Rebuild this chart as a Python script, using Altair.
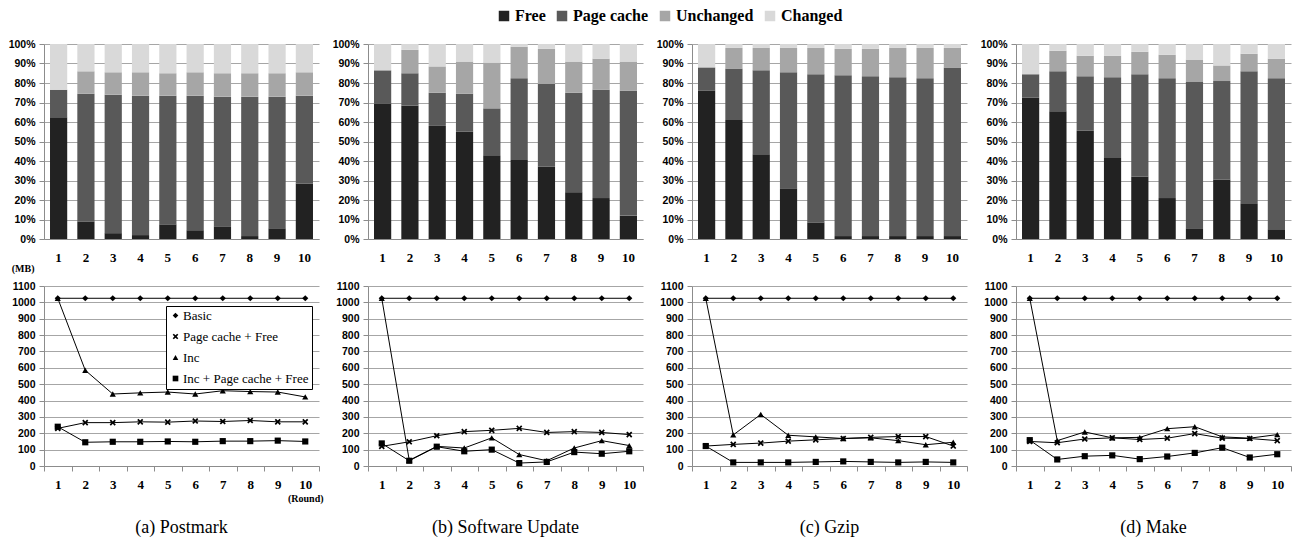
import altair as alt
import pandas as pd

rounds = [1, 2, 3, 4, 5, 6, 7, 8, 9, 10]
components = ["Free", "Page cache", "Unchanged", "Changed"]
comp_colors = ["#222222", "#595959", "#a6a6a6", "#d9d9d9"]
panels = ["(a) Postmark", "(b) Software Update", "(c) Gzip", "(d) Make"]

# Stacked bars: cumulative tops (%) of Free, Page cache, Unchanged (Changed fills to 100)
free_top = {
    "(a) Postmark":        [62.5, 9, 3, 2, 7.5, 4.5, 6.5, 1.5, 5.5, 28.5],
    "(b) Software Update": [69.5, 68.5, 58, 55, 43, 40.5, 37, 24, 21, 12],
    "(c) Gzip":            [76, 61, 43.5, 26, 8.5, 1.5, 1.5, 1.5, 1.5, 1.5],
    "(d) Make":            [72.5, 65.5, 55.5, 41.5, 32, 21, 5.5, 30.5, 18, 5],
}
pagecache_top = {
    "(a) Postmark":        [76.5, 74.5, 74, 73.5, 73.5, 73.5, 73, 73, 73, 73.5],
    "(b) Software Update": [86.5, 85, 75, 74.5, 67, 82.5, 79.5, 75, 76.5, 76],
    "(c) Gzip":            [88, 87.5, 86.5, 85.5, 84.5, 84, 83.5, 83, 82.5, 88],
    "(d) Make":            [84.5, 86, 83.5, 83, 84.5, 82.5, 80.5, 81, 86, 82.5],
}
unchanged_top = {
    "(a) Postmark":        [76.5, 86, 85.5, 85.5, 85, 85.5, 85, 85, 85, 85.5],
    "(b) Software Update": [86.5, 97, 88.5, 91, 90.5, 98.5, 97.5, 91, 92.5, 91],
    "(c) Gzip":            [88, 98, 98, 98, 98, 97.5, 97.5, 98, 98, 98],
    "(d) Make":            [84.5, 96.5, 94, 94, 96, 94.5, 92, 89, 95, 92.5],
}

# Line charts (MB)
series_names = ["Basic", "Page cache + Free", "Inc", "Inc + Page cache + Free"]
basic = {
    "(a) Postmark":        [1025, 1025, 1025, 1025, 1025, 1025, 1025, 1025, 1025, 1025],
    "(b) Software Update": [1025, 1025, 1025, 1025, 1025, 1025, 1025, 1025, 1025, 1025],
    "(c) Gzip":            [1025, 1025, 1025, 1025, 1025, 1025, 1025, 1025, 1025, 1025],
    "(d) Make":            [1025, 1025, 1025, 1025, 1025, 1025, 1025, 1025, 1025, 1025],
}
pc_free = {
    "(a) Postmark":        [230, 265, 265, 270, 268, 275, 272, 278, 270, 270],
    "(b) Software Update": [120, 148, 185, 210, 218, 230, 205, 210, 205, 192],
    "(c) Gzip":            [122, 132, 140, 152, 160, 168, 175, 180, 180, 122],
    "(d) Make":            [150, 142, 165, 172, 162, 170, 198, 170, 168, 155],
}
inc = {
    "(a) Postmark":        [1025, 585, 440, 447, 452, 440, 460, 455, 452, 422],
    "(b) Software Update": [1025, 35, 120, 110, 172, 70, 32, 110, 155, 125],
    "(c) Gzip":            [1025, 190, 315, 188, 178, 168, 172, 155, 130, 145],
    "(d) Make":            [1025, 155, 208, 172, 175, 228, 240, 178, 170, 192],
}
inc_pc_free = {
    "(a) Postmark":        [240, 145, 148, 148, 150, 148, 152, 152, 155, 150],
    "(b) Software Update": [138, 32, 118, 90, 100, 18, 25, 85, 75, 90],
    "(c) Gzip":            [122, 22, 22, 22, 25, 28, 25, 22, 25, 22],
    "(d) Make":            [158, 40, 60, 65, 42, 58, 80, 112, 52, 72],
}

# ---- build tables ----
bar_rows = []
for p in panels:
    for k, r in enumerate(rounds):
        tops = [free_top[p][k], pagecache_top[p][k], unchanged_top[p][k], 100.0]
        prev = 0.0
        for j, c in enumerate(components):
            bar_rows.append({"panel": p, "round": r, "component": c, "idx": j,
                             "value": max(tops[j] - prev, 0.0)})
            prev = tops[j]
bar_df = pd.DataFrame(bar_rows)

line_rows = []
for p in panels:
    for s, src in zip(series_names, [basic, pc_free, inc, inc_pc_free]):
        for k, r in enumerate(rounds):
            line_rows.append({"panel": p, "round": r, "series": s, "value": src[p][k]})
line_df = pd.DataFrame(line_rows)

W = 275
BAR_H = 195
LINE_H = 180
SANS = "Liberation Sans"
SERIF = "Liberation Serif"
GRID = "#a6a6a6"
AXC = "#8c8c8c"

color_legend = alt.Legend(
    orient="none", legendX=452, legendY=-36, direction="horizontal", title=None,
    labelFont=SERIF, labelFontWeight="bold", labelFontSize=16, labelColor="black",
    symbolType="square", symbolSize=110, symbolStrokeWidth=0, columnPadding=8,
    labelOffset=3,
)

shape_legend = alt.Legend(
    orient="none", legendX=122, legendY=262, direction="vertical", title=None,
    labelFont=SERIF, labelFontWeight="normal", labelFontSize=13, labelColor="black",
    labelLimit=300, symbolSize=32, symbolFillColor="black", symbolStrokeColor="black",
    symbolStrokeWidth=0, rowPadding=7, padding=3, strokeColor="black",
    fillColor="white", labelOffset=1,
)

X_SHAPE = ("M-1,-0.6L-0.6,-1L0,-0.4L0.6,-1L1,-0.6L0.4,0L1,0.6L0.6,1L0,0.4"
           "L-0.6,1L-1,0.6L-0.4,0Z")
shape_scale = alt.Scale(
    domain=series_names,
    range=["diamond", X_SHAPE, "triangle-up", "square"],
)


def bar_chart(i):
    p = panels[i]
    df = bar_df[bar_df["panel"] == p]
    return alt.Chart(df).mark_bar().encode(
        x=alt.X("round:O", title=None,
                scale=alt.Scale(paddingInner=0.37, paddingOuter=0.22),
                axis=alt.Axis(labelAngle=0, ticks=False, tickSize=0, labelPadding=12,
                              labelFont=SERIF, labelFontWeight="bold", labelFontSize=13,
                              domainColor=AXC, grid=False)),
        y=alt.Y("value:Q", stack="normalize", title=None,
                scale=alt.Scale(domain=[0, 1]),
                axis=alt.Axis(format=".0%", values=[0, 0.1, 0.2, 0.3, 0.4, 0.5, 0.6, 0.7, 0.8, 0.9, 1.0],
                              labelFont=SANS, labelFontWeight="bold", labelFontSize=10.5,
                              tickSize=5, labelPadding=4, tickColor=AXC, domainColor=AXC,
                              gridColor=GRID)),
        color=alt.Color("component:N", sort=components,
                        scale=alt.Scale(domain=components, range=comp_colors),
                        legend=color_legend),
        order=alt.Order("idx:Q", sort="ascending"),
    ).properties(width=W, height=BAR_H)


def line_chart(i):
    p = panels[i]
    df = line_df[line_df["panel"] == p]
    if i == 0:
        x_enc = alt.X("round:O", title="(Round)", bandPosition=0.5,
                      scale=alt.Scale(type="band", paddingInner=0, paddingOuter=0),
                      axis=alt.Axis(labelAngle=0, tickBand="extent", tickSize=5, labelPadding=7,
                                    labelFont=SERIF, labelFontWeight="bold", labelFontSize=13,
                                    domainColor=AXC, tickColor=AXC, grid=False,
                                    titleFont=SERIF, titleFontWeight="bold", titleFontSize=10,
                                    titleX=W - 13.75, titleY=32, titleAlign="center",
                                    titleBaseline="middle"))
        y_enc = alt.Y("value:Q", title="(MB)",
                      scale=alt.Scale(domain=[0, 1100]),
                      axis=alt.Axis(values=list(range(0, 1101, 100)), format="d",
                                    labelFont=SANS, labelFontWeight="bold", labelFontSize=10.5,
                                    tickSize=5, labelPadding=4, tickColor=AXC, domainColor=AXC,
                                    gridColor=GRID,
                                    titleFont=SERIF, titleFontWeight="bold", titleFontSize=10,
                                    titleAngle=0, titleX=-10, titleY=-18, titleAlign="right",
                                    titleBaseline="middle"))
        cap_offset = 16
    else:
        x_enc = alt.X("round:O", title=None, bandPosition=0.5,
                      scale=alt.Scale(type="band", paddingInner=0, paddingOuter=0),
                      axis=alt.Axis(labelAngle=0, tickBand="extent", tickSize=5, labelPadding=7,
                                    labelFont=SERIF, labelFontWeight="bold", labelFontSize=13,
                                    domainColor=AXC, tickColor=AXC, grid=False))
        y_enc = alt.Y("value:Q", title=None,
                      scale=alt.Scale(domain=[0, 1100]),
                      axis=alt.Axis(values=list(range(0, 1101, 100)), format="d",
                                    labelFont=SANS, labelFontWeight="bold", labelFontSize=10.5,
                                    tickSize=5, labelPadding=4, tickColor=AXC, domainColor=AXC,
                                    gridColor=GRID))
        cap_offset = 28
    base = alt.Chart(df).encode(x=x_enc, y=y_enc)
    lines = base.mark_line(color="black", strokeWidth=1).encode(detail="series:N")
    pts = base.mark_point(filled=True, fill="black", strokeWidth=0,
                          opacity=1, size=38).encode(
        shape=alt.Shape("series:N", scale=shape_scale, legend=shape_legend),
    )
    return alt.layer(lines, pts).properties(
        width=W, height=LINE_H,
        title=alt.TitleParams(text=p, orient="bottom", offset=cap_offset,
                              baseline="top", anchor="middle", font=SERIF, fontSize=18,
                              fontWeight="normal", color="black"),
    )


charts = [bar_chart(i) for i in range(4)] + [line_chart(i) for i in range(4)]

chart = alt.concat(
    *charts, columns=4, spacing={"row": 47, "column": 49}, bounds="flush"
).properties(
    padding={"left": 0, "top": 0, "right": 0, "bottom": 0}
).configure_view(stroke=None).configure_axis(labelColor="black")

chart.save("out.html", embed_options={"renderer": "svg", "actions": False})
